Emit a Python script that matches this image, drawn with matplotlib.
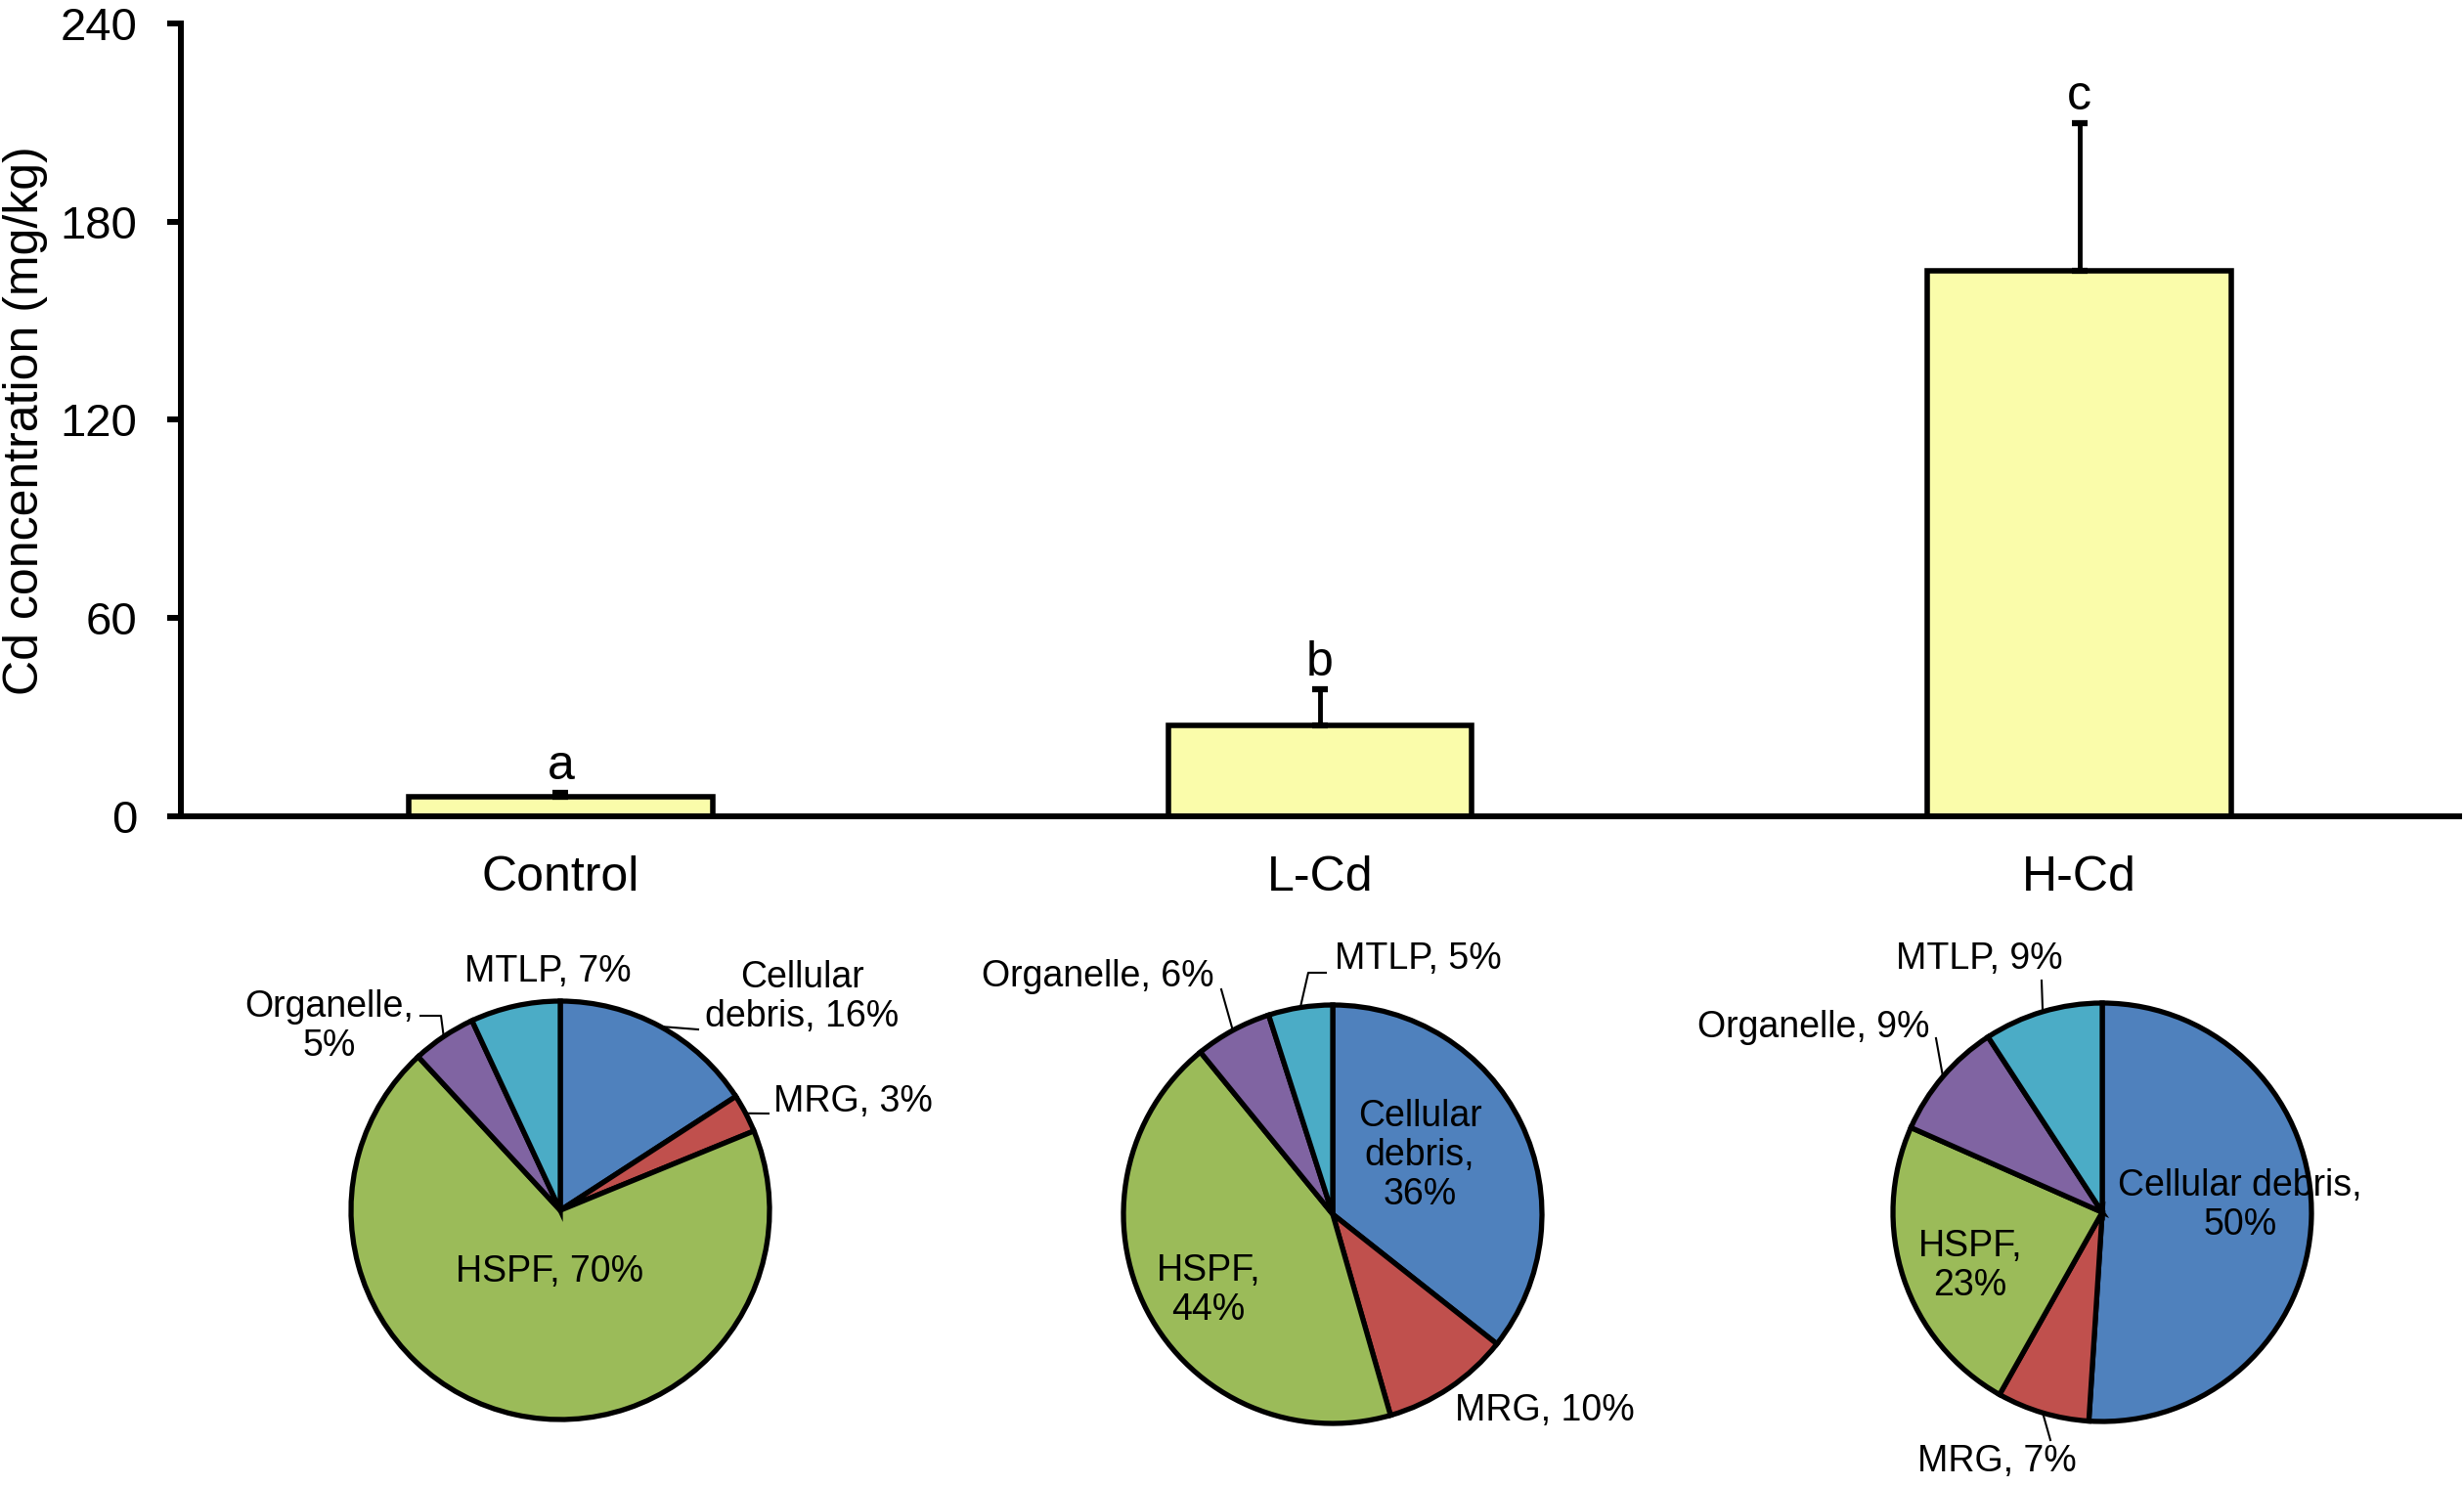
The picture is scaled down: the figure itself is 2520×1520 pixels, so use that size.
import numpy as np
import matplotlib
matplotlib.use("Agg")
import matplotlib.pyplot as plt

plt.rcParams['font.family'] = ['Liberation Sans', 'DejaVu Sans']

# bar chart data
groups = ["Control", "L-Cd", "H-Cd"]
cd_mean = [6.0, 27.6, 165.0]
cd_err = [1.2, 11.0, 44.7]
letters = ["a", "b", "c"]

# subcellular distribution (%), clockwise from top
fractions = ["Cellular debris", "MRG", "HSPF", "Organelle", "MTLP"]
pct_control = [16, 3, 70, 5, 7]
pct_lcd = [36, 10, 44, 6, 5]
pct_hcd = [50, 7, 23, 9, 9]

pie_colors = ["#4F81BD", "#C0504D", "#9BBB59", "#8064A2", "#4BACC6"]
bar_color = "#FAFCAA"

W, H = 2520, 1520
fig = plt.figure(figsize=(W / 100, H / 100), dpi=100)

# ---- bar chart ----
ax = fig.add_axes([185 / W, 1 - 835 / H, 2330 / W, 811 / H])
x = np.arange(len(groups))
ax.bar(x, cd_mean, width=0.40, color=bar_color, edgecolor="black",
       linewidth=4, zorder=2)
ax.errorbar(x, cd_mean, yerr=[np.zeros(len(x)), cd_err], fmt="none",
            ecolor="black", elinewidth=3.5, capsize=6, capthick=4.5, zorder=3)
for xi, m, e, lt in zip(x, cd_mean, cd_err, letters):
    ax.annotate(lt, xy=(xi, m + e), xytext=(0, 10), textcoords="offset points",
                ha="center", va="baseline", fontsize=36)

ax.set_xlim(-0.5, 2.5)
ax.set_ylim(0, 240)
ax.set_yticks([0, 60, 120, 180, 240])
ax.set_xticks(x)
ax.set_xticklabels(groups)
for s in ["top", "right"]:
    ax.spines[s].set_visible(False)
for s in ["left", "bottom"]:
    ax.spines[s].set_linewidth(4.3)
ax.tick_params(axis="y", direction="out", length=10, width=4.3, labelsize=34, pad=22)
ax.tick_params(axis="x", length=0, labelsize=36, pad=29)
fig.text(3 / W, 1 - 430 / H, "Cd concentration (mg/kg)", rotation=90,
         ha="left", va="center", fontsize=36)

# ---- pies ----
r = 214
pies = [
    (pct_control, (573, 1238),
     [(820, 1020), (872, 1127), (562, 1301), (337, 1050), (560, 994)],
     ["Cellular\ndebris, 16%", "MRG, 3%", "HSPF, 70%", "Organelle,\n5%", "MTLP, 7%"],
     {0: [(714, 1053)], 1: [(786, 1139)], 3: [(451, 1039), (430, 1039)]}),
    (pct_lcd, (1363, 1242),
     [(1452, 1182), (1580, 1443), (1236, 1320), (1123, 999), (1450, 981)],
     ["Cellular\ndebris,\n36%", "MRG, 10%", "HSPF,\n44%", "Organelle, 6%", "MTLP, 5%"],
     {3: [(1249, 1012)], 4: [(1338, 995), (1356, 995)]}),
    (pct_hcd, (2150, 1240),
     [(2291, 1233), (2042, 1495), (2015, 1295), (1855, 1051), (2024, 981)],
     ["Cellular debris,\n50%", "MRG, 7%", "HSPF,\n23%", "Organelle, 9%", "MTLP, 9%"],
     {1: [(2097, 1473)], 3: [(1980, 1062)], 4: [(2088, 1003)]}),
]

rim_points = []
R = 1.1
for vals, (cx, cy), _, _, _ in pies:
    pax = fig.add_axes([(cx - R * r) / W, 1 - (cy + R * r) / H,
                        2 * R * r / W, 2 * R * r / H])
    wedges, _ = pax.pie(vals, colors=pie_colors, startangle=90, counterclock=False,
                        radius=1, wedgeprops=dict(edgecolor="black", linewidth=3.8))
    pax.set_xlim(-R, R)
    pax.set_ylim(-R, R)
    pax.set_aspect("equal")
    pts = []
    for w in wedges:
        mid = np.deg2rad((w.theta1 + w.theta2) / 2)
        pts.append((cx + r * np.cos(mid), cy - r * np.sin(mid)))
    rim_points.append(pts)

# overlay in pixel coordinates for labels and leader lines
ov = fig.add_axes([0, 0, 1, 1])
ov.set_xlim(0, W)
ov.set_ylim(H, 0)
ov.axis("off")
for (vals, c, pos, labels, leaders), pts in zip(pies, rim_points):
    for (tx, ty), lab in zip(pos, labels):
        ov.text(tx, ty, lab, ha="center", va="center", multialignment="center",
                fontsize=27, linespacing=1.15)
    for i, path in leaders.items():
        xs = [pts[i][0]] + [p[0] for p in path]
        ys = [pts[i][1]] + [p[1] for p in path]
        ov.plot(xs, ys, color="black", linewidth=1.5)

fig.savefig("out.png", dpi=100, facecolor="white")
